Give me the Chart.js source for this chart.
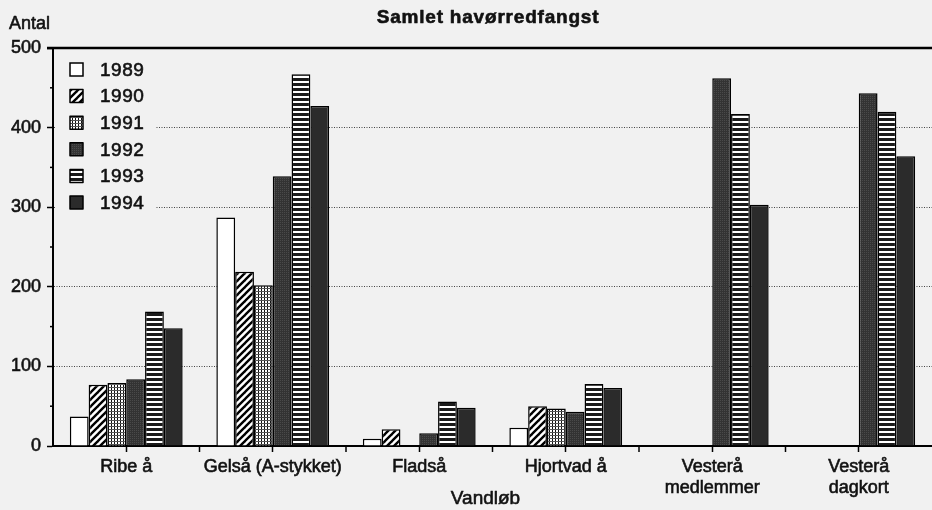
<!DOCTYPE html>
<html><head><meta charset="utf-8">
<script src="https://cdn.jsdelivr.net/npm/chart.js@4.4.1/dist/chart.umd.min.js"></script>
<style>html,body{margin:0;padding:0;background:#f1f1f1;overflow:hidden}#wrap{width:932px;height:510px;position:relative}</style>
</head><body><div id="wrap"><canvas id="c" width="932" height="510"></canvas></div>
<script>
// ---- data ----
const categories = ['Ribe å', 'Gelså (A-stykket)', 'Fladså', 'Hjortvad å', ['Vesterå', 'medlemmer'], ['Vesterå', 'dagkort']];
const years = ['1989', '1990', '1991', '1992', '1993', '1994'];
const v1989 = [37, 287, 9, 23, null, null];
const v1990 = [77, 219, 21, 50, null, null];
const v1991 = [79, 202, null, 47, null, null];
const v1992 = [84, 339, 16, 43, 462, 443];
const v1993 = [169, 467, 56, 78, 417, 420];
const v1994 = [148, 427, 48, 73, 303, 364];
const yMin = 0, yMax = 500, yStep = 100;
const minorTicks = [50, 150, 250, 350, 450];
const gridValues = [100, 200, 300, 400];
const titleText = 'Samlet havørredfangst';
const yTitle = 'Antal';
const xTitle = 'Vandløb';

// ---- styles ----
const BG = '#f1f1f1';
const INK = '#111';
const FONT = "'Liberation Sans', Arial, Helvetica, sans-serif";

function tile(w, h, draw) {
  const c = document.createElement('canvas'); c.width = w; c.height = h;
  const g = c.getContext('2d'); draw(g, w, h);
  return document.getElementById('c').getContext('2d').createPattern(c, 'repeat');
}
const pWhite = '#ffffff';
const pHatch = tile(7, 7, (g, w, h) => {
  g.fillStyle = '#fff'; g.fillRect(0, 0, w, h);
  g.strokeStyle = '#000'; g.lineWidth = 2.4; g.lineCap = 'square';
  for (const o of [-w, 0, w]) { g.beginPath(); g.moveTo(o, h); g.lineTo(o + w, 0); g.stroke(); }
});
const pGrid = tile(3, 3, (g) => {
  g.fillStyle = '#fff'; g.fillRect(0, 0, 3, 3);
  g.fillStyle = '#111'; g.fillRect(0, 0, 1, 3);
  g.fillStyle = '#555'; g.fillRect(0, 0, 3, 1);
});
const pDark1 = tile(2, 2, (g) => {
  g.fillStyle = '#333'; g.fillRect(0, 0, 2, 2);
  g.fillStyle = '#4a4a4a'; g.fillRect(0, 0, 1, 1);
});
const pStripe = tile(1, 5, (g) => {
  g.fillStyle = '#1a1a1a'; g.fillRect(0, 0, 1, 5);
  g.fillStyle = '#fff'; g.fillRect(0, 1, 1, 2);
});
const pDark2 = '#2b2b2b';
const fills = [pWhite, pHatch, pGrid, pDark1, pStripe, pDark2];
const series = [v1989, v1990, v1991, v1992, v1993, v1994];

const datasets = series.map((d, i) => ({
  label: years[i], data: d, backgroundColor: fills[i], borderColor: '#000', borderWidth: 1.5,
  categoryPercentage: 0.77, barPercentage: 1.0
}));

function heavyText(ctx, t, x, y, sw) {
  ctx.lineWidth = sw; ctx.strokeStyle = INK; ctx.lineJoin = 'round';
  ctx.strokeText(t, x, y); ctx.fillText(t, x, y);
}

const deco = {
  id: 'deco',
  beforeDraw(chart) {
    const ctx = chart.ctx; ctx.save(); ctx.fillStyle = BG; ctx.fillRect(0, 0, chart.width, chart.height); ctx.restore();
  },
  afterDraw(chart) {
    const { ctx, chartArea: a, scales: { x, y } } = chart;
    ctx.save();
    // top frame line
    ctx.strokeStyle = '#000'; ctx.lineWidth = 2.5;
    const yt = y.getPixelForValue(yMax);
    ctx.beginPath(); ctx.moveTo(a.left - 6, yt); ctx.lineTo(chart.width, yt); ctx.stroke();
    // minor y ticks
    ctx.lineWidth = 1.5;
    for (const v of minorTicks) {
      const yy = y.getPixelForValue(v);
      ctx.beginPath(); ctx.moveTo(a.left - 3, yy); ctx.lineTo(a.left, yy); ctx.stroke();
    }
    // x boundary ticks
    for (let i = 0; i < categories.length - 1; i++) {
      const px = (x.getPixelForTick(i) + x.getPixelForTick(i + 1)) / 2;
      ctx.beginPath(); ctx.moveTo(px, a.bottom); ctx.lineTo(px, a.bottom + 6); ctx.stroke();
    }
    // legend
    const lx = a.left, ly = a.top + 3;
    ctx.fillStyle = BG; ctx.fillRect(lx + 2, ly, 100, 165);
    ctx.font = '19px ' + FONT; ctx.textBaseline = 'middle'; ctx.textAlign = 'left';
    datasets.forEach((ds, i) => {
      const by = ly + 12 + i * 26.6;
      ctx.fillStyle = ds.backgroundColor; ctx.fillRect(lx + 17, by, 13, 13);
      ctx.strokeStyle = '#000'; ctx.lineWidth = 1.5; ctx.strokeRect(lx + 17, by, 13, 13);
      ctx.fillStyle = INK;
      ctx.letterSpacing = '0.5px';
      heavyText(ctx, ds.label, lx + 47, by + 7.5, 0.6);
      ctx.letterSpacing = '0px';
    });
    // titles
    ctx.fillStyle = INK;
    ctx.font = 'bold 19px ' + FONT; ctx.textAlign = 'center';
    ctx.letterSpacing = '0.8px';
    heavyText(ctx, titleText, 488, 18, 0.6);
    ctx.letterSpacing = '0px';
    ctx.font = '18px ' + FONT; ctx.textAlign = 'left';
    heavyText(ctx, yTitle, 9, 24, 0.6);
    ctx.font = '19px ' + FONT; ctx.textAlign = 'center';
    heavyText(ctx, xTitle, (a.left + a.right) / 2 - 7, 499, 0.6);
    ctx.restore();
  }
};

new Chart(document.getElementById('c'), {
  type: 'bar',
  data: { labels: categories, datasets },
  options: {
    responsive: false, animation: false, devicePixelRatio: 1,
    layout: { padding: { top: 48, left: 0, right: 0, bottom: 0 } },
    plugins: { legend: { display: false }, tooltip: { enabled: false }, title: { display: false } },
    scales: {
      x: {
        grid: { display: true, drawOnChartArea: false, drawTicks: true, tickLength: 6, tickColor: '#000', tickWidth: 1.5, offset: false },
        border: { display: true, color: '#000', width: 2 },
        ticks: { font: { family: FONT, size: 18 }, color: INK, maxRotation: 0, autoSkip: false, padding: 4, textStrokeColor: INK, textStrokeWidth: 0.6 },
        title: { display: false, text: xTitle },
        afterFit: (s) => { s.height = 64; }
      },
      y: {
        min: yMin, max: yMax,
        ticks: { stepSize: yStep, font: { family: FONT, size: 18 }, color: INK, padding: 6, textStrokeColor: INK, textStrokeWidth: 0.6 },
        grid: {
          color: (c) => gridValues.includes(c.tick && c.tick.value) ? '#444' : 'rgba(0,0,0,0)',
          lineWidth: 1, tickLength: 6, tickColor: '#000', tickWidth: 1.5
        },
        border: { display: true, color: '#000', width: 2, dash: [1, 1.5] },
        afterFit: (s) => { s.width = 53; }
      }
    }
  },
  plugins: [deco]
});
</script></body></html>
